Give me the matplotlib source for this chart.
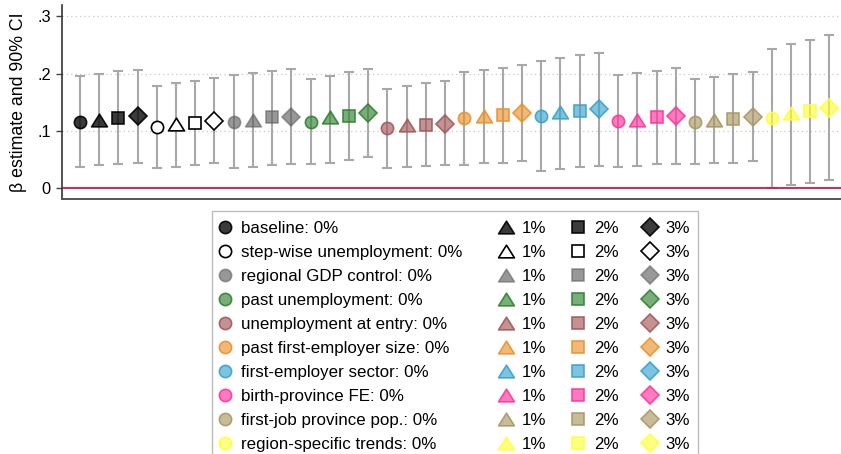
import matplotlib
matplotlib.use("Agg")
import matplotlib.pyplot as plt
from matplotlib.lines import Line2D
from matplotlib.patches import Rectangle
from matplotlib.path import Path
import numpy as np

plt.rcParams['font.family'] = ['Liberation Sans', 'DejaVu Sans']

# ---------------- data ----------------
specs = ["baseline", "step-wise unemployment", "regional GDP control",
         "past unemployment", "unemployment at entry", "past first-employer size",
         "first-employer sector", "birth-province FE", "first-job province pop.",
         "region-specific trends"]
levels = ["0%", "1%", "2%", "3%"]

beta_0 = [0.116, 0.107, 0.116, 0.116, 0.105, 0.122, 0.127, 0.117, 0.116, 0.123]
beta_1 = [0.120, 0.112, 0.120, 0.124, 0.110, 0.127, 0.133, 0.120, 0.120, 0.131]
beta_2 = [0.123, 0.114, 0.124, 0.127, 0.111, 0.128, 0.135, 0.124, 0.121, 0.135]
beta_3 = [0.126, 0.117, 0.125, 0.131, 0.113, 0.131, 0.138, 0.126, 0.124, 0.140]

lo_0 = [0.038, 0.036, 0.036, 0.042, 0.035, 0.041, 0.031, 0.037, 0.042, 0.000]
lo_1 = [0.041, 0.038, 0.038, 0.045, 0.037, 0.044, 0.034, 0.039, 0.044, 0.005]
lo_2 = [0.042, 0.041, 0.040, 0.049, 0.039, 0.045, 0.037, 0.042, 0.045, 0.009]
lo_3 = [0.044, 0.044, 0.042, 0.054, 0.041, 0.048, 0.039, 0.043, 0.047, 0.014]

hi_0 = [0.196, 0.179, 0.198, 0.190, 0.173, 0.203, 0.222, 0.198, 0.191, 0.243]
hi_1 = [0.200, 0.183, 0.202, 0.196, 0.178, 0.206, 0.227, 0.202, 0.195, 0.252]
hi_2 = [0.204, 0.188, 0.205, 0.203, 0.183, 0.210, 0.233, 0.205, 0.199, 0.259]
hi_3 = [0.207, 0.193, 0.209, 0.209, 0.187, 0.215, 0.237, 0.210, 0.203, 0.268]

yticks = [0, 0.1, 0.2, 0.3]
ytick_labels = ["0", ".1", ".2", ".3"]

# ---------------- styles ----------------
base_cols = [(0, 0, 0), None, (0.38, 0.38, 0.38), (50/255, 130/255, 50/255),
             (163/255, 89/255, 89/255), (235/255, 146/255, 47/255),
             (57/255, 163/255, 206/255), (255/255, 53/255, 158/255),
             (170/255, 152/255, 100/255), (255/255, 255/255, 60/255)]
fill_alpha = [0.77, 1.0, 0.65, 0.65, 0.65, 0.65, 0.65, 0.65, 0.65, 0.65]
edge_alpha = [0.9, 1.0, 0.6, 0.9, 0.9, 0.9, 0.9, 0.9, 0.9, 0.9]


def fill_of(i):
    if base_cols[i] is None:
        return (1, 1, 1, 1)
    return base_cols[i] + (fill_alpha[i],)


def edge_of(i):
    if base_cols[i] is None:
        return (0, 0, 0, 1)
    return base_cols[i] + (edge_alpha[i],)


tri = Path([(-1, -0.8), (1, -0.8), (0, 0.8), (-1, -0.8)],
           [Path.MOVETO, Path.LINETO, Path.LINETO, Path.CLOSEPOLY])
markers = ['o', tri, 's', 'D']
msizes = [8.8, 11.4, 8.5, 9.1]

betas = [beta_0, beta_1, beta_2, beta_3]
los = [lo_0, lo_1, lo_2, lo_3]
his = [hi_0, hi_1, hi_2, hi_3]

# ---------------- figure ----------------
W, H = 841, 454
fig = plt.figure(figsize=(W/100, H/100), dpi=100)
ax = fig.add_axes([61.7/W, 1 - 199/H, (W - 61.7)/W, (199 - 5)/H])

for i in range(len(specs)):
    for j in range(4):
        x = 4*i + j
        b = betas[j][i]
        ax.errorbar([x], [b], yerr=[[b - los[j][i]], [his[j][i] - b]],
                    fmt='none', ecolor='#a8a8a8', elinewidth=1.5,
                    capsize=3.3, capthick=1.5, zorder=2)
        ax.plot([x], [b], linestyle='none', marker=markers[j], ms=msizes[j],
                mfc=fill_of(i), mec=edge_of(i), mew=1.2, zorder=3)

ax.axhline(0, color='#d4173f', lw=1.3, zorder=2.5)
for yv in yticks[1:]:
    ax.axhline(yv, color='#c8c8c8', lw=0.9, linestyle=(0, (1, 2.5)), zorder=1)

ax.set_xlim(-0.95, 39.6)
ax.set_ylim(-0.0187, 0.32)
ax.set_yticks(yticks)
ax.set_yticklabels(ytick_labels, fontsize=11.8)
ax.set_xticks([])
ax.tick_params(axis='y', length=4, width=1, color='#444444', pad=3.8)
for s in ['top', 'right']:
    ax.spines[s].set_visible(False)
ax.spines['left'].set_color('#333333')
ax.spines['bottom'].set_color('#555555')
ax.spines['left'].set_linewidth(1.2)
ax.spines['bottom'].set_linewidth(1.4)
ax.set_ylabel("β estimate and 90% CI", fontsize=12.8, labelpad=7)

# ---------------- legend ----------------
fs = 12.2
def handle(i, j):
    return Line2D([], [], linestyle='none', marker=markers[j], ms=msizes[j],
                  mfc=fill_of(i), mec=edge_of(i), mew=1.2)

h1 = [handle(i, 0) for i in range(10)]
l1 = [f"{s}: {levels[0]}" for s in specs]
h2, l2 = [], []
for j in range(1, 4):
    for i in range(10):
        h2.append(handle(i, j))
        l2.append(levels[j])

common = dict(loc='upper left', bbox_transform=fig.transFigure, frameon=False,
              borderpad=0, borderaxespad=0, handlelength=0.96,
              handletextpad=0.46, labelspacing=0.527, fontsize=fs)
leg1 = fig.legend(h1, l1, bbox_to_anchor=(216.9/W, 1 - 221.3/H), ncol=1, **common)
leg2 = fig.legend(h2, l2, bbox_to_anchor=(497.8/W, 1 - 221.3/H), ncol=3,
                  columnspacing=1.38, **common)

frame = Rectangle((212/W, -0.05), (698 - 212)/W, (1 - 210.7/H) + 0.05,
                  transform=fig.transFigure, fill=False, edgecolor='#bdbdbd',
                  lw=1.0)
fig.add_artist(frame)

fig.savefig("out.png", dpi=100)
